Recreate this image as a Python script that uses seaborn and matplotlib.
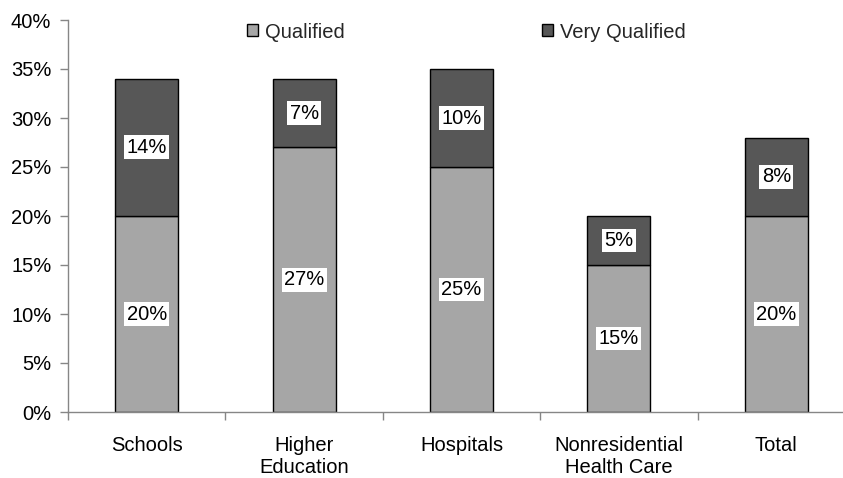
import matplotlib
matplotlib.use("Agg")
import matplotlib.pyplot as plt
from matplotlib.patches import Patch
from matplotlib.ticker import FixedLocator, PercentFormatter
import seaborn as sns
import pandas as pd

categories = ["Schools", "Higher\nEducation", "Hospitals", "Nonresidential\nHealth Care", "Total"]
qualified = [20, 27, 25, 15, 20]
very_qualified = [14, 7, 10, 5, 8]
y_ticks = [0, 5, 10, 15, 20, 25, 30, 35, 40]

LIGHT = "#A6A6A6"
DARK = "#575757"
AXIS = "#868686"
FS = 14.5

sns.set_theme(style="white")
plt.rcParams["font.family"] = ["Liberation Sans", "DejaVu Sans"]

df = pd.DataFrame({"category": categories, "qualified": qualified, "very": very_qualified})

fig = plt.figure(figsize=(8.43, 4.78), dpi=100)
ax = fig.add_axes([68 / 843, 1 - 412 / 478, 787 / 843, 392 / 478])

sns.barplot(data=df, x="category", y="qualified", color=LIGHT, saturation=1,
            width=0.4, edgecolor="black", linewidth=1, ax=ax)
sns.barplot(data=df, x="category", y="very", bottom=df["qualified"], color=DARK,
            saturation=1, width=0.4, edgecolor="black", linewidth=1, ax=ax)

# value labels in white boxes, centred in each segment
for i, (q, v) in enumerate(zip(qualified, very_qualified)):
    for base, val in ((0, q), (q, v)):
        ax.text(i, base + val / 2, f"{val}%", ha="center", va="center", fontsize=FS,
                color="black",
                bbox=dict(boxstyle="square,pad=0.12", facecolor="white", edgecolor="none"))

ax.set_xlim(-0.5, 4.5)
ax.set_ylim(0, 40)
ax.yaxis.set_major_locator(FixedLocator(y_ticks))
ax.yaxis.set_major_formatter(PercentFormatter(decimals=0))
ax.set_xlabel("")
ax.set_ylabel("")

for side in ("top", "right"):
    ax.spines[side].set_visible(False)
for side in ("left", "bottom"):
    ax.spines[side].set_color(AXIS)
    ax.spines[side].set_linewidth(1)

ax.tick_params(axis="y", which="major", direction="out", length=6, width=1, color=AXIS,
               labelsize=FS, labelcolor="black", pad=6, left=True)
ax.tick_params(axis="x", which="major", length=0, labelsize=FS, labelcolor="black", pad=17)
for lbl in ax.get_xticklabels():
    lbl.set_linespacing(1.2)
ax.xaxis.set_minor_locator(FixedLocator([-0.5, 0.5, 1.5, 2.5, 3.5]))
ax.tick_params(axis="x", which="minor", direction="out", length=6, width=1, color=AXIS,
               bottom=True)

handles = [Patch(facecolor=LIGHT, edgecolor="black", linewidth=1, label="Qualified"),
           Patch(facecolor=DARK, edgecolor="black", linewidth=1, label="Very Qualified")]
fig.legend(handles=handles, loc="center left", bbox_to_anchor=(247 / 843, 1 - 32 / 478),
           ncol=2, frameon=False, fontsize=FS, handlelength=0.55, handleheight=0.55,
           handletextpad=0.35, columnspacing=9.8, borderpad=0, borderaxespad=0)

fig.savefig("out.png", dpi=100)
